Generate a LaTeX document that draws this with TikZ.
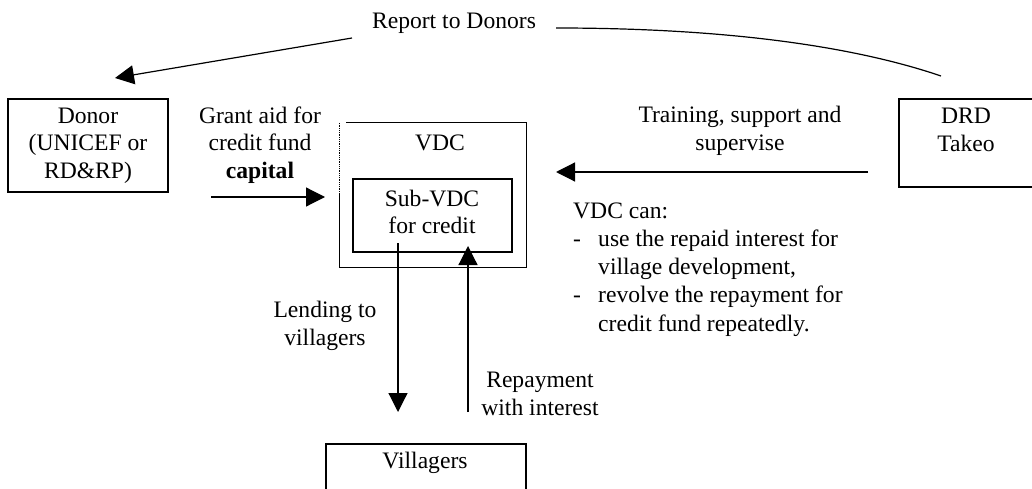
\documentclass[tikz,border=0pt]{standalone}
\usepackage{fontspec}
\setmainfont{Liberation Serif}
\usetikzlibrary{arrows.meta}
\begin{document}
\begin{tikzpicture}[x=1pt,y=-1pt,
  every node/.style={inner sep=0pt,font=\fontsize{23.6}{27.5}\selectfont},
  box/.style={draw,line width=1.2pt,rectangle},
  lbl/.style={align=center},
  conn/.style={line width=1.2pt},
  arr/.style={conn,-{Triangle[length=19pt,width=19pt]}}]
\useasboundingbox (0,0) rectangle (1032,489);
% boxes
\node[box,lbl,minimum width=160pt,minimum height=93pt] (donor) at (88,145.5) {Donor\\(UNICEF or\\RD\&RP)};
\node[box,minimum width=140pt,minimum height=88pt] (drd) at (969,143) {};
\node[lbl] (drdtext) at (966,130) {DRD\\Takeo};
\node[minimum width=186pt,minimum height=144pt] (vdc) at (433,195) {};
\draw[line width=0.8pt,densely dotted] (vdc.north west) -- ++(0,70) coordinate (vdcdot);
\draw[line width=1.2pt] (vdcdot) -- (vdc.south west) -- (vdc.south east) -- (vdc.north east) -- ([xshift=6pt]vdc.north west);
\node (vdclabel) at (440,143) {VDC};
\node[box,lbl,minimum width=159pt,minimum height=73pt] (sub) at (432.5,215.5) {};
\node[lbl] (subtext) at (432,212) {Sub-VDC\\for credit};
\node[box,minimum width=200pt,minimum height=60pt] (vill) at (426,474) {};
\node (villtext) at (425,463) {Villagers};
% labels
\node (report) at (454,23) {Report to Donors};
\node[lbl] (grant) at (260,145) {Grant aid for\\credit fund\\\textbf{capital}};
\node[lbl] (training) at (740,131) {Training, support and\\supervise};
\node[lbl] (lending) at (325,326) {Lending to\\villagers};
\node[lbl] (repay) at (540,394) {Repayment\\with interest};
\node[anchor=north west,font=\fontsize{23.6}{28.3}\selectfont] (can) at (573,198)
 {\begin{tabular}{@{}p{25pt}@{}l@{}}
  \multicolumn{2}{@{}l@{}}{VDC can:}\\
  - & use the repaid interest for\\
    & village development,\\
  - & revolve the repayment for\\
    & credit fund repeatedly.
 \end{tabular}};
% connector coordinates
\coordinate (repstart) at (352,38);
\coordinate (reptip) at (115,78);
\coordinate (curvestart) at (556,28);
\coordinate (curveend) at (941,76);
\coordinate (grantstart) at (211,197);
\coordinate (granttip) at (325,197);
\coordinate (trainstart) at (868,172);
\coordinate (traintip) at (556,172);
\coordinate (lendstart) at (398,243);
\coordinate (lendtip) at (398,412);
\coordinate (paystart) at (468,412);
\coordinate (paytip) at (468,246);
% connectors
\draw[arr] (repstart) -- (reptip);
\draw[conn] (curvestart) .. controls (720,28) and (850,45) .. (curveend);
\draw[arr] (grantstart) -- (granttip);
\draw[arr] (trainstart) -- (traintip);
\draw[arr] (lendstart) -- (lendtip);
\draw[arr] (paystart) -- (paytip);
\end{tikzpicture}
\end{document}
